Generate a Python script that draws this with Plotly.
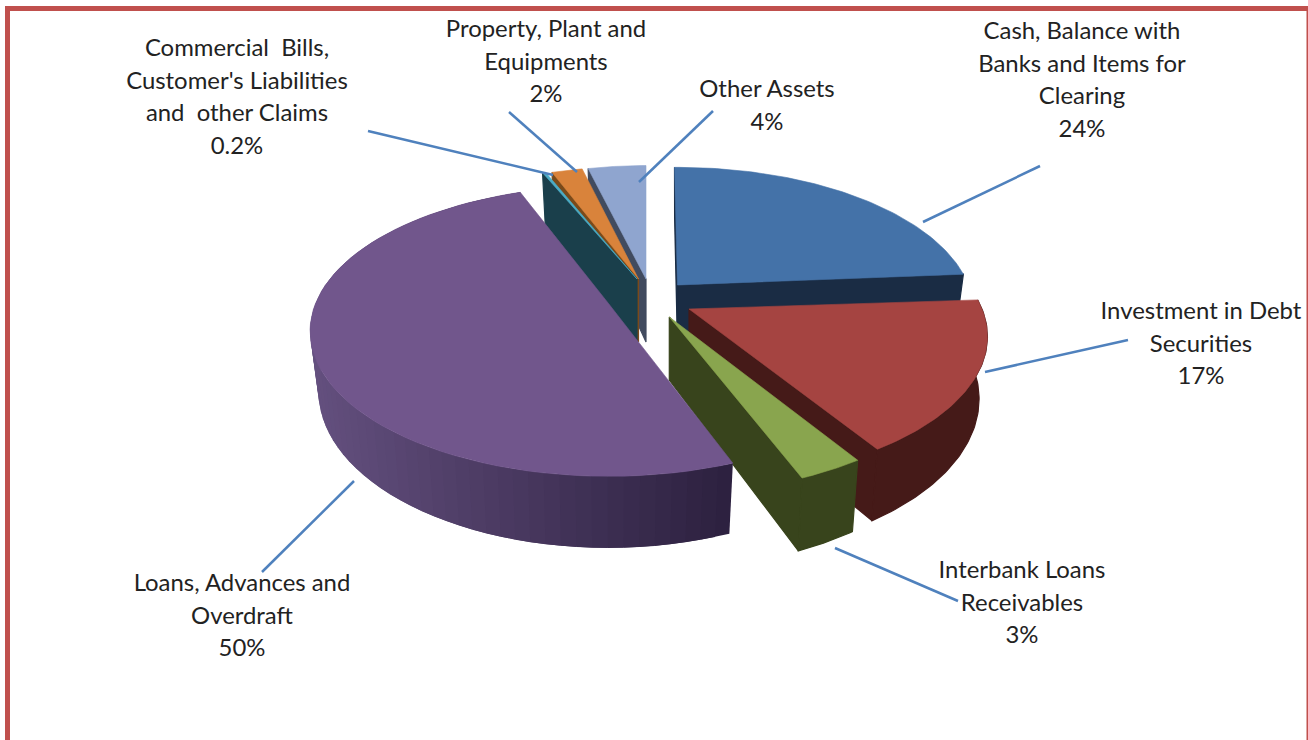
import math
import plotly.graph_objects as go

# Balance-sheet asset mix, clockwise from twelve o'clock
categories = [
    "Cash, Balance with Banks and Items for Clearing",
    "Investment in Debt Securities",
    "Interbank Loans Receivables",
    "Loans, Advances and Overdraft",
    "Commercial Bills, Customer's Liabilities and other Claims",
    "Property, Plant and Equipments",
    "Other Assets",
]
shares = [24, 17, 3, 50, 0.2, 2, 4]

label_lines = [
    ["Cash, Balance with", "Banks and Items for", "Clearing"],
    ["Investment in Debt", "Securities"],
    ["Interbank Loans", "Receivables"],
    ["Loans, Advances and", "Overdraft"],
    ["Commercial\u00a0 Bills,", "Customer's Liabilities", "and\u00a0 other Claims"],
    ["Property, Plant and", "Equipments"],
    ["Other Assets"],
]

# Projection of the tilted disc
PERSPECTIVE, BASE_SCALE, HUB_DROP = 0.19, 0.972, 1.05

# Exploded placement of each wedge: hub position, angular nudge, radii, thickness
hub_x = [677.5, 689.0, 669.3, 608.5, 637.0, 638.5, 646.0]
hub_y = [285.0, 309.0, 317.0, 303.5, 279.0, 279.0, 279.0]
turn = [-0.7, 0, 0, 1.5, 0, 1.2, 0]
radius_x = [291.0, 293.0, 293.0, 293.0, 293.0, 293.0, 276.0]
radius_y = [140.0, 140.0, 143.0, 140.0, 135.0, 134.0, 135.0]
depth = [60.0, 60.0, 60.0, 58.0, 60.0, 60.0, 60.0]

top_colors = ["#4472A8", "#A54441", "#89A54E", "#71568C", "#4BACC6", "#D9833B", "#8FA5CF"]
wall_colors = ["#1A2C44", "#451A18", "#38441C", "#64507F", "#1A3F4B", "#7A4A1A", "#414B5F"]
wall_shade_end = {3: "#2D2140"}

# Which faces of each wedge can be seen from the camera
show_outer = [False, True, True, True, False, False, False]
show_start = [True, False, False, False, True, True, True]
show_end = [True, True, True, False, False, False, False]

# Back-to-front painting order
paint_order = [6, 0, 5, 4, 1, 2, 3]

label_x = [1082, 1201, 1022, 242, 237, 546, 767]
label_y = [33.5, 313.5, 572.5, 585.5, 50.5, 31.5, 91.5]
LINE_STEP = 32.4

leader_x = [(1040, 923), (1128, 985), (835, 958), (354, 262), (368, 553), (509, 577), (713, 639)]
leader_y = [(166, 222), (340, 372), (548, 601), (481, 572), (131, 175), (112, 172), (111, 182)]

total = sum(shares)
bounds = [0.0]
for s in shares:
    bounds.append(bounds[-1] + s / total * 360.0)


def project(i, deg, base=False):
    """Screen position of a rim point on wedge i, on its top or base face."""
    a = math.radians(deg + turn[i])
    u, v = math.sin(a), math.cos(a)
    w = 1 + PERSPECTIVE * v
    dx, dy = radius_x[i] * u / w, -radius_y[i] * v / w
    if base:
        return hub_x[i] + dx * BASE_SCALE, hub_y[i] + dy + depth[i] / w
    return hub_x[i] + dx, hub_y[i] + dy


def rim(i, n=70):
    a0, a1 = bounds[i], bounds[i + 1]
    return [a0 + (a1 - a0) * k / n for k in range(n + 1)]


def polygon(pts, color, name, stroke=0.6):
    xs = [p[0] for p in pts] + [pts[0][0]]
    ys = [p[1] for p in pts] + [pts[0][1]]
    return go.Scatter(
        x=xs, y=ys, mode="lines", fill="toself", fillcolor=color,
        line=dict(color=color, width=stroke), name=name, hoverinfo="name", showlegend=False,
    )


def blend(c0, c1, t):
    a = [int(c0[k:k + 2], 16) for k in (1, 3, 5)]
    b = [int(c1[k:k + 2], 16) for k in (1, 3, 5)]
    return "#" + "".join(f"{round(p + (q - p) * t):02X}" for p, q in zip(a, b))


def cut_wall(i, deg):
    hub_top = (hub_x[i], hub_y[i])
    hub_base = (hub_x[i], hub_y[i] + depth[i] * HUB_DROP)
    return polygon([hub_top, project(i, deg), project(i, deg, True), hub_base],
                   wall_colors[i], categories[i], stroke=1.2)


def outer_wall(i):
    angles = rim(i)
    if i not in wall_shade_end:
        pts = [project(i, d) for d in angles] + [project(i, d, True) for d in reversed(angles)]
        return [polygon(pts, wall_colors[i], categories[i], stroke=1.2)]
    # Strips overlap the next one so no seam of background shows between shades
    xs = [project(i, d)[0] for d in angles]
    x_min, x_max = min(xs), max(xs)
    strips = []
    for k in range(len(angles) - 1):
        d0, d1 = angles[k], angles[min(k + 2, len(angles) - 1)]
        t = (project(i, angles[k])[0] - x_min) / (x_max - x_min)
        color = blend(wall_colors[i], wall_shade_end[i], t)
        strips.append(polygon(
            [project(i, d0), project(i, d1), project(i, d1, True), project(i, d0, True)],
            color, categories[i], stroke=0,
        ))
    return strips


def top_face(i):
    pts = [(hub_x[i], hub_y[i])] + [project(i, d) for d in rim(i)]
    return polygon(pts, top_colors[i], categories[i])


fig = go.Figure()
for i in paint_order:
    if i == 5:
        # the bills sliver sits in front of this wall but behind this face
        fig.add_trace(cut_wall(5, bounds[5]))
        continue
    if i == 4:
        fig.add_trace(cut_wall(4, bounds[4]))
        fig.add_trace(top_face(4))
        fig.add_trace(top_face(5))
        continue
    if show_start[i]:
        fig.add_trace(cut_wall(i, bounds[i]))
    if show_end[i]:
        fig.add_trace(cut_wall(i, bounds[i + 1]))
    if show_outer[i]:
        fig.add_traces(outer_wall(i))
    fig.add_trace(top_face(i))

for (x0, x1), (y0, y1), name in zip(leader_x, leader_y, categories):
    fig.add_trace(go.Scatter(
        x=[x0, x1], y=[y0, y1], mode="lines", line=dict(color="#4F81BD", width=2.5),
        name=name, hoverinfo="skip", showlegend=False,
    ))

text_x, text_y, text_s = [], [], []
for lines, share, x, y in zip(label_lines, shares, label_x, label_y):
    for k, line in enumerate(lines + [f"{share:g}%"]):
        text_x.append(x)
        text_y.append(y + k * LINE_STEP)
        text_s.append(line)
fig.add_trace(go.Scatter(
    x=text_x, y=text_y, text=text_s, mode="text", textposition="middle center",
    textfont=dict(family="Lato", size=23.9, color="#222222"), hoverinfo="skip", showlegend=False,
))

frame = "#C0504D"
fig.update_layout(
    width=1308, height=740, margin=dict(l=0, r=0, t=0, b=0),
    paper_bgcolor="white", plot_bgcolor="white",
    xaxis=dict(range=[0, 1308], visible=False, fixedrange=True),
    yaxis=dict(range=[740, 0], visible=False, fixedrange=True),
    shapes=[
        dict(type="rect", x0=5, x1=10, y0=6, y1=740, fillcolor=frame, line_width=0),
        dict(type="rect", x0=5, x1=1308, y0=6, y1=11, fillcolor=frame, line_width=0),
        dict(type="rect", x0=1306.5, x1=1308, y0=6, y1=740, fillcolor=frame, line_width=0),
    ],
)
fig.write_html("out.html")
